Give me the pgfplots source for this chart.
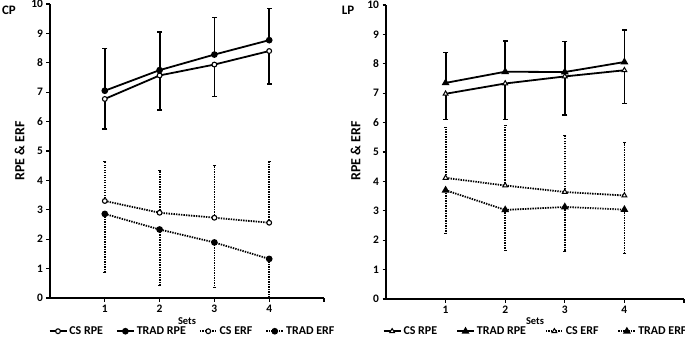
\documentclass[border=0pt]{standalone}
\usepackage{fontspec}
\setmainfont{Carlito}[BoldFont={Carlito Bold}]
\usepackage{pgfplots}
\pgfplotsset{compat=1.18}

\pgfplotsset{
  mystyle/.style={
    scale only axis,
    xmin=0, xmax=5, ymin=0, ymax=10,
    xtick={1,2,3,4,5}, xticklabels={1,2,3,4,{}},
    ytick={0,1,...,10},
    axis lines=left,
    axis line style={-, line width=1.6bp},
    tick style={line width=1.2bp, black},
    tick align=outside,
    major tick length=3.5bp,
    /pgf/number format/assume math mode=true,
    tick label style={font=\bfseries\fontsize{11.5}{13}\selectfont},
    clip=false,
    legend columns=4,
    legend style={draw=none, fill=none, font=\bfseries\fontsize{12}{14}\selectfont,
      anchor=center, inner sep=0pt},
    legend cell align=left,
  },
  dots/.style={dash pattern=on 1.4bp off 1.1bp},
  sbar/.style={black, line width=1.8bp, solid, unbounded coords=jump, forget plot},
  dbar/.style={black, line width=1.8bp, dots, unbounded coords=jump, forget plot},
  scap/.style={black, only marks, mark=-, mark size=2.6bp, mark options={solid, line width=1.6bp}, forget plot},
  dcap/.style={black, only marks, mark=-, mark size=1.6bp, mark options={solid, line width=1bp}, forget plot},
  sline/.style={black, line width=1.8bp, solid},
  dline/.style={black, line width=1.8bp, dots},
}

\begin{document}
\begin{tikzpicture}
\useasboundingbox (0,0) rectangle (685bp,338bp);

% ---------------- CP ----------------
\begin{axis}[mystyle, at={(50bp,40bp)}, anchor=south west,
  width=274bp, height=294bp,
  legend style={at={(0.52,-0.113)},
    /tikz/every even column/.append style={column sep=11bp}}]
% error bars (CS RPE: minus, TRAD RPE: plus, CS ERF: plus, TRAD ERF: minus)
\addplot[sbar] coordinates {(1,6.77)(1,5.75) (1,nan) (2,7.57)(2,6.40) (2,nan) (3,7.94)(3,6.85) (3,nan) (4,8.40)(4,7.28)};
\addplot[scap] coordinates {(1,5.75)(2,6.40)(3,6.85)(4,7.28)};
\addplot[sbar] coordinates {(1,7.05)(1,8.48) (1,nan) (2,7.75)(2,9.05) (2,nan) (3,8.28)(3,9.54) (3,nan) (4,8.77)(4,9.85)};
\addplot[scap] coordinates {(1,8.48)(2,9.05)(3,9.54)(4,9.85)};
\addplot[dbar] coordinates {(1,3.30)(1,4.63) (1,nan) (2,2.90)(2,4.33) (2,nan) (3,2.73)(3,4.50) (3,nan) (4,2.56)(4,4.64)};
\addplot[dcap] coordinates {(1,4.63)(2,4.33)(3,4.50)(4,4.64)};
\addplot[dbar] coordinates {(1,2.86)(1,0.87) (1,nan) (2,2.33)(2,0.41) (2,nan) (3,1.89)(3,0.36) (3,nan) (4,1.33)(4,0)};
\addplot[dcap] coordinates {(1,0.87)(2,0.41)(3,0.36)};
% means
\addplot[sline, mark=*, mark size=2.4bp, mark options={solid, fill=white, line width=1.1bp}]
  coordinates {(1,6.77)(2,7.57)(3,7.94)(4,8.40)};
\addlegendentry{CS RPE}
\addplot[sline, mark=*, mark size=2.4bp, mark options={solid, fill=black}]
  coordinates {(1,7.05)(2,7.75)(3,8.28)(4,8.77)};
\addlegendentry{TRAD RPE}
\addplot[dline, mark=*, mark size=2.4bp, mark options={solid, fill=white, line width=1.1bp}]
  coordinates {(1,3.30)(2,2.90)(3,2.73)(4,2.56)};
\addlegendentry{CS ERF}
\addplot[dline, mark=*, mark size=2.4bp, mark options={solid, fill=black}]
  coordinates {(1,2.86)(2,2.33)(3,1.89)(4,1.33)};
\addlegendentry{TRAD ERF}
\end{axis}

% ---------------- LP ----------------
\begin{axis}[mystyle, at={(386bp,39bp)}, anchor=south west,
  width=298bp, height=294bp,
  legend style={at={(0.502,-0.110)},
    /tikz/every even column/.append style={column sep=17bp}}]
\addplot[dbar] coordinates {(1,4.12)(1,5.85) (1,nan) (2,3.86)(2,5.89) (2,nan) (3,3.64)(3,5.55) (3,nan) (4,3.52)(4,5.32)};
\addplot[dcap] coordinates {(1,5.85)(2,5.89)(3,5.55)(4,5.32)};
\addplot[dbar] coordinates {(1,3.70)(1,2.23) (1,nan) (2,3.03)(2,1.66) (2,nan) (3,3.13)(3,1.61) (3,nan) (4,3.04)(4,1.54)};
\addplot[dcap] coordinates {(1,2.23)(2,1.66)(3,1.61)(4,1.54)};
\addplot[sbar] coordinates {(1,6.98)(1,6.10) (1,nan) (2,7.33)(2,6.10) (2,nan) (3,7.57)(3,6.26) (3,nan) (4,7.78)(4,6.65)};
\addplot[scap] coordinates {(1,6.10)(2,6.10)(3,6.26)(4,6.65)};
\addplot[sbar] coordinates {(1,7.35)(1,8.38) (1,nan) (2,7.73)(2,8.78) (2,nan) (3,7.72)(3,8.76) (3,nan) (4,8.06)(4,9.14)};
\addplot[scap] coordinates {(1,8.38)(2,8.78)(3,8.76)(4,9.14)};
\addplot[sline, mark=triangle*, mark size=2.8bp, mark options={solid, fill=white, line width=1bp}]
  coordinates {(1,6.98)(2,7.33)(3,7.57)(4,7.78)};
\addlegendentry{CS RPE}
\addplot[sline, mark=triangle*, mark size=2.8bp, mark options={solid, fill=black}]
  coordinates {(1,7.35)(2,7.73)(3,7.72)(4,8.06)};
\addlegendentry{TRAD RPE}
\addplot[dline, mark=triangle*, mark size=2.8bp, mark options={solid, fill=white, line width=1bp}]
  coordinates {(1,4.12)(2,3.86)(3,3.64)(4,3.52)};
\addlegendentry{CS ERF}
\addplot[dline, mark=triangle*, mark size=2.8bp, mark options={solid, fill=black}]
  coordinates {(1,3.70)(2,3.03)(3,3.13)(4,3.04)};
\addlegendentry{TRAD ERF}
\end{axis}

% titles and labels
\node[font=\bfseries\fontsize{13}{15}\selectfont] at (9bp,328bp) {CP};
\node[font=\bfseries\fontsize{13}{15}\selectfont] at (348bp,328bp) {LP};
\node[rotate=90, font=\bfseries\fontsize{14}{17}\selectfont] at (19.5bp,187bp) {RPE \& ERF};
\node[rotate=90, font=\bfseries\fontsize{14}{17}\selectfont] at (355.5bp,187bp) {RPE \& ERF};
\node[font=\bfseries\fontsize{10.5}{12}\selectfont] at (187bp,16.5bp) {Sets};
\node[font=\bfseries\fontsize{10.5}{12}\selectfont] at (535bp,16.5bp) {Sets};
\end{tikzpicture}
\end{document}
